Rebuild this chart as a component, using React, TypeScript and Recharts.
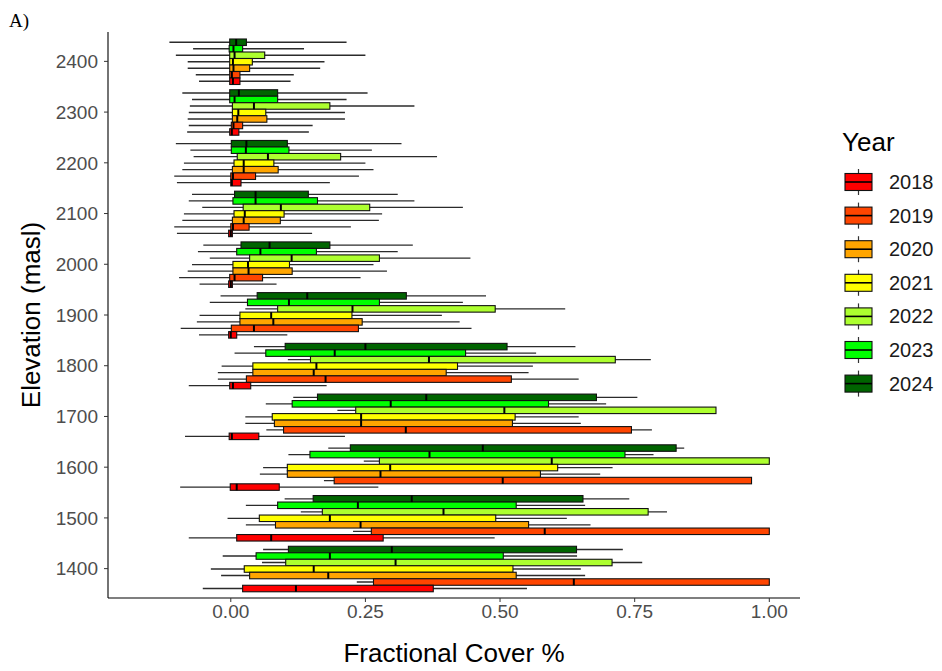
import React from "react";
import { ComposedChart, Bar, XAxis, YAxis } from "recharts";

// [min, q1, median, q3, max] per elevation, 1400 -> 2400
type Stat = [number, number, number, number, number];

const ELEVATIONS = [1400, 1500, 1600, 1700, 1800, 1900, 2000, 2100, 2200, 2300, 2400];
const YEARS = ["2018", "2019", "2020", "2021", "2022", "2023", "2024"];
const X_TICKS = [0, 0.25, 0.5, 0.75, 1];

const COVER_2018: Stat[] = [
  [-0.052, 0.022, 0.121, 0.376, 0.55],
  [-0.078, 0.011, 0.075, 0.283, 0.49],
  [-0.094, -0.001, 0.011, 0.09, 0.274],
  [-0.085, -0.003, 0.002, 0.052, 0.212],
  [-0.078, -0.002, 0.004, 0.037, 0.178],
  [-0.059, -0.004, 0.0, 0.011, 0.105],
  [-0.058, -0.004, 0.0, 0.003, 0.085],
  [-0.1, -0.004, 0.0, 0.003, 0.151],
  [-0.1, 0.0, 0.002, 0.019, 0.184],
  [-0.081, -0.002, 0.002, 0.015, 0.145],
  [-0.059, -0.002, 0.004, 0.017, 0.111],
];
const COVER_2019: Stat[] = [
  [0.234, 0.265, 0.637, 1.0, 1.0],
  [0.227, 0.261, 0.583, 1.0, 1.0],
  [0.173, 0.192, 0.505, 0.967, 0.967],
  [0.066, 0.098, 0.325, 0.744, 0.782],
  [-0.024, 0.029, 0.176, 0.521, 0.646],
  [-0.093, 0.001, 0.043, 0.237, 0.447],
  [-0.096, -0.002, 0.007, 0.059, 0.241],
  [-0.105, 0.0, 0.004, 0.034, 0.223],
  [-0.105, 0.0, 0.004, 0.046, 0.238],
  [-0.078, 0.001, 0.005, 0.022, 0.152],
  [-0.065, -0.002, 0.002, 0.017, 0.117],
];
const COVER_2020: Stat[] = [
  [-0.018, 0.035, 0.181, 0.53, 0.658],
  [0.028, 0.083, 0.241, 0.553, 0.668],
  [0.054, 0.105, 0.278, 0.575, 0.686],
  [0.027, 0.081, 0.242, 0.523, 0.65],
  [-0.024, 0.041, 0.154, 0.4, 0.553],
  [-0.063, 0.017, 0.079, 0.244, 0.425],
  [-0.08, 0.004, 0.033, 0.114, 0.29],
  [-0.09, 0.003, 0.024, 0.092, 0.275],
  [-0.09, 0.003, 0.024, 0.088, 0.265],
  [-0.08, 0.003, 0.012, 0.067, 0.212],
  [-0.08, -0.002, 0.005, 0.035, 0.166],
];
const COVER_2021: Stat[] = [
  [-0.037, 0.025, 0.154, 0.524, 0.65],
  [-0.006, 0.053, 0.184, 0.492, 0.624],
  [0.06, 0.105, 0.296, 0.607, 0.709],
  [0.027, 0.077, 0.242, 0.528, 0.646],
  [-0.017, 0.041, 0.159, 0.421, 0.561],
  [-0.058, 0.017, 0.075, 0.225, 0.392],
  [-0.072, 0.004, 0.032, 0.109, 0.265],
  [-0.087, 0.006, 0.026, 0.099, 0.281],
  [-0.087, 0.006, 0.024, 0.08, 0.25],
  [-0.078, 0.003, 0.014, 0.065, 0.212],
  [-0.08, -0.002, 0.004, 0.04, 0.174],
];
const COVER_2022: Stat[] = [
  [0.058, 0.102, 0.306, 0.708, 0.764],
  [0.13, 0.17, 0.395, 0.775, 0.81],
  [0.247, 0.276, 0.596, 1.0, 1.0],
  [0.198, 0.232, 0.508, 0.901, 0.901],
  [0.106, 0.148, 0.368, 0.714, 0.78],
  [0.027, 0.087, 0.226, 0.491, 0.621],
  [-0.039, 0.035, 0.113, 0.276, 0.445],
  [-0.053, 0.023, 0.093, 0.258, 0.431],
  [-0.069, 0.012, 0.069, 0.204, 0.383],
  [-0.076, 0.003, 0.043, 0.184, 0.341],
  [-0.102, -0.002, 0.007, 0.063, 0.25],
];
const COVER_2023: Stat[] = [
  [-0.015, 0.047, 0.184, 0.506, 0.643],
  [0.028, 0.087, 0.236, 0.53, 0.658],
  [0.107, 0.147, 0.369, 0.732, 0.785],
  [0.065, 0.114, 0.297, 0.59, 0.697],
  [0.007, 0.065, 0.193, 0.436, 0.567],
  [-0.039, 0.031, 0.108, 0.276, 0.431],
  [-0.061, 0.011, 0.055, 0.159, 0.31],
  [-0.078, 0.004, 0.046, 0.161, 0.341],
  [-0.075, 0.001, 0.028, 0.108, 0.262],
  [-0.072, -0.002, 0.007, 0.087, 0.215],
  [-0.07, -0.003, 0.005, 0.022, 0.136],
];
const COVER_2024: Stat[] = [
  [0.06, 0.107, 0.299, 0.642, 0.728],
  [0.1, 0.153, 0.336, 0.654, 0.74],
  [0.181, 0.222, 0.468, 0.827, 0.842],
  [0.116, 0.161, 0.363, 0.679, 0.755],
  [0.043, 0.101, 0.25, 0.513, 0.64],
  [-0.019, 0.049, 0.142, 0.326, 0.474],
  [-0.051, 0.019, 0.072, 0.184, 0.338],
  [-0.072, 0.007, 0.046, 0.144, 0.31],
  [-0.102, 0.001, 0.029, 0.105, 0.317],
  [-0.09, -0.002, 0.015, 0.087, 0.254],
  [-0.114, -0.002, 0.01, 0.029, 0.215],
];

const COVER: Record<string, Stat[]> = {
  "2018": COVER_2018,
  "2019": COVER_2019,
  "2020": COVER_2020,
  "2021": COVER_2021,
  "2022": COVER_2022,
  "2023": COVER_2023,
  "2024": COVER_2024,
};

const YEAR_COLORS: Record<string, string> = {
  "2018": "#FF0000",
  "2019": "#FF4500",
  "2020": "#FFA500",
  "2021": "#FFFF00",
  "2022": "#ADFF2F",
  "2023": "#00FF00",
  "2024": "#006400",
};

const FONT = "'Liberation Sans', Arial, sans-serif";
const TICK_GREY = "#4D4D4D";

// one row per elevation, top of the chart first (vertical layout draws row 0 at the top)
const rows = ELEVATIONS.map((elev, i) => {
  const row: Record<string, any> = { elev: String(elev) };
  YEARS.forEach((y) => {
    const [mn, q1, med, q3, mx] = COVER[y][i];
    row["w" + y] = [mn, mx];
    row["b" + y] = [q1, q3];
    row["m" + y] = [mn, med];
  });
  return row;
}).reverse();

// 2024 sits on top of each group, 2018 at the bottom
const stackOrder = [...YEARS].reverse();

const Whisker = (p: any) => {
  const cy = p.y + p.height / 2;
  return <line x1={p.x} x2={p.x + p.width} y1={cy} y2={cy} stroke="#2b2b2b" strokeWidth={1.3} />;
};

const MedianTick = (p: any) => {
  const xm = p.x + p.width;
  return <line x1={xm} x2={xm} y1={p.y} y2={p.y + p.height} stroke="#000" strokeWidth={2} />;
};

const BoxRect = (p: any) => (
  <rect x={p.x} y={p.y} width={p.width} height={p.height} fill={p.fill} stroke="#111" strokeWidth={1.1} />
);

const yPad = { top: 4, bottom: 4 };

function YearLegend() {
  return (
    <g>
      <text x={842} y={151} fontSize={26} fill="#000" fontFamily={FONT}>
        Year
      </text>
      {YEARS.map((y, i) => {
        const cy = 182 + i * 33.6;
        return (
          <g key={y}>
            <line x1={858.5} x2={858.5} y1={cy - 13} y2={cy + 13} stroke="#333" strokeWidth={1.2} />
            <rect x={845} y={cy - 8.5} width={27} height={17} fill={YEAR_COLORS[y]} stroke="#111" strokeWidth={1.1} />
            <line x1={845} x2={872} y1={cy} y2={cy} stroke="#000" strokeWidth={1.6} />
            <text x={889} y={cy + 7} fontSize={20} fill="#1a1a1a" fontFamily={FONT}>
              {y}
            </text>
          </g>
        );
      })}
    </g>
  );
}

export default function App() {
  return (
    <div style={{ position: "absolute", left: 0, top: 0, width: 942, height: 671, background: "#fff" }}>
      <ComposedChart
        width={942}
        height={671}
        data={rows}
        layout="vertical"
        margin={{ top: 32, right: 142, bottom: 0, left: 0 }}
        barGap={0}
      >
        <XAxis
          type="number"
          domain={[-0.228, 1.057]}
          ticks={X_TICKS}
          tickFormatter={(v: number) => v.toFixed(2)}
          height={73}
          axisLine={{ stroke: "#000", strokeWidth: 1.1 }}
          tickLine={{ stroke: "#333" }}
          tickSize={4}
          tickMargin={3}
          tick={{ fill: TICK_GREY, fontSize: 19, fontFamily: FONT }}
        />
        <YAxis
          yAxisId="box"
          type="category"
          dataKey="elev"
          width={108}
          interval={0}
          padding={yPad}
          axisLine={{ stroke: "#000", strokeWidth: 1.1 }}
          tickLine={{ stroke: "#333" }}
          tickSize={4}
          tickMargin={6}
          tick={{ fill: TICK_GREY, fontSize: 19, fontFamily: FONT }}
        />
        <YAxis yAxisId="whisker" type="category" dataKey="elev" hide padding={yPad} />
        <YAxis yAxisId="median" type="category" dataKey="elev" hide padding={yPad} />

        {stackOrder.map((y) => (
          <Bar
            key={"w" + y}
            yAxisId="whisker"
            dataKey={"w" + y}
            barSize={6.5}
            shape={Whisker}
            isAnimationActive={false}
          />
        ))}
        {stackOrder.map((y) => (
          <Bar
            key={"b" + y}
            yAxisId="box"
            dataKey={"b" + y}
            barSize={6.5}
            fill={YEAR_COLORS[y]}
            shape={BoxRect}
            isAnimationActive={false}
          />
        ))}
        {stackOrder.map((y) => (
          <Bar
            key={"m" + y}
            yAxisId="median"
            dataKey={"m" + y}
            barSize={6.5}
            shape={MedianTick}
            isAnimationActive={false}
          />
        ))}
      </ComposedChart>

      <svg
        width={942}
        height={671}
        style={{ position: "absolute", left: 0, top: 0, pointerEvents: "none" }}
      >
        <text x={9} y={27} fontSize={19} fill="#000" fontFamily="'Liberation Serif', 'Times New Roman', serif">
          A)
        </text>
        <text x={454} y={662} fontSize={26} textAnchor="middle" fill="#000" fontFamily={FONT}>
          Fractional Cover %
        </text>
        <text
          x={0}
          y={0}
          fontSize={26}
          textAnchor="middle"
          fill="#000"
          fontFamily={FONT}
          transform="translate(40 315) rotate(-90)"
        >
          Elevation (masl)
        </text>
        <YearLegend />
      </svg>
    </div>
  );
}
